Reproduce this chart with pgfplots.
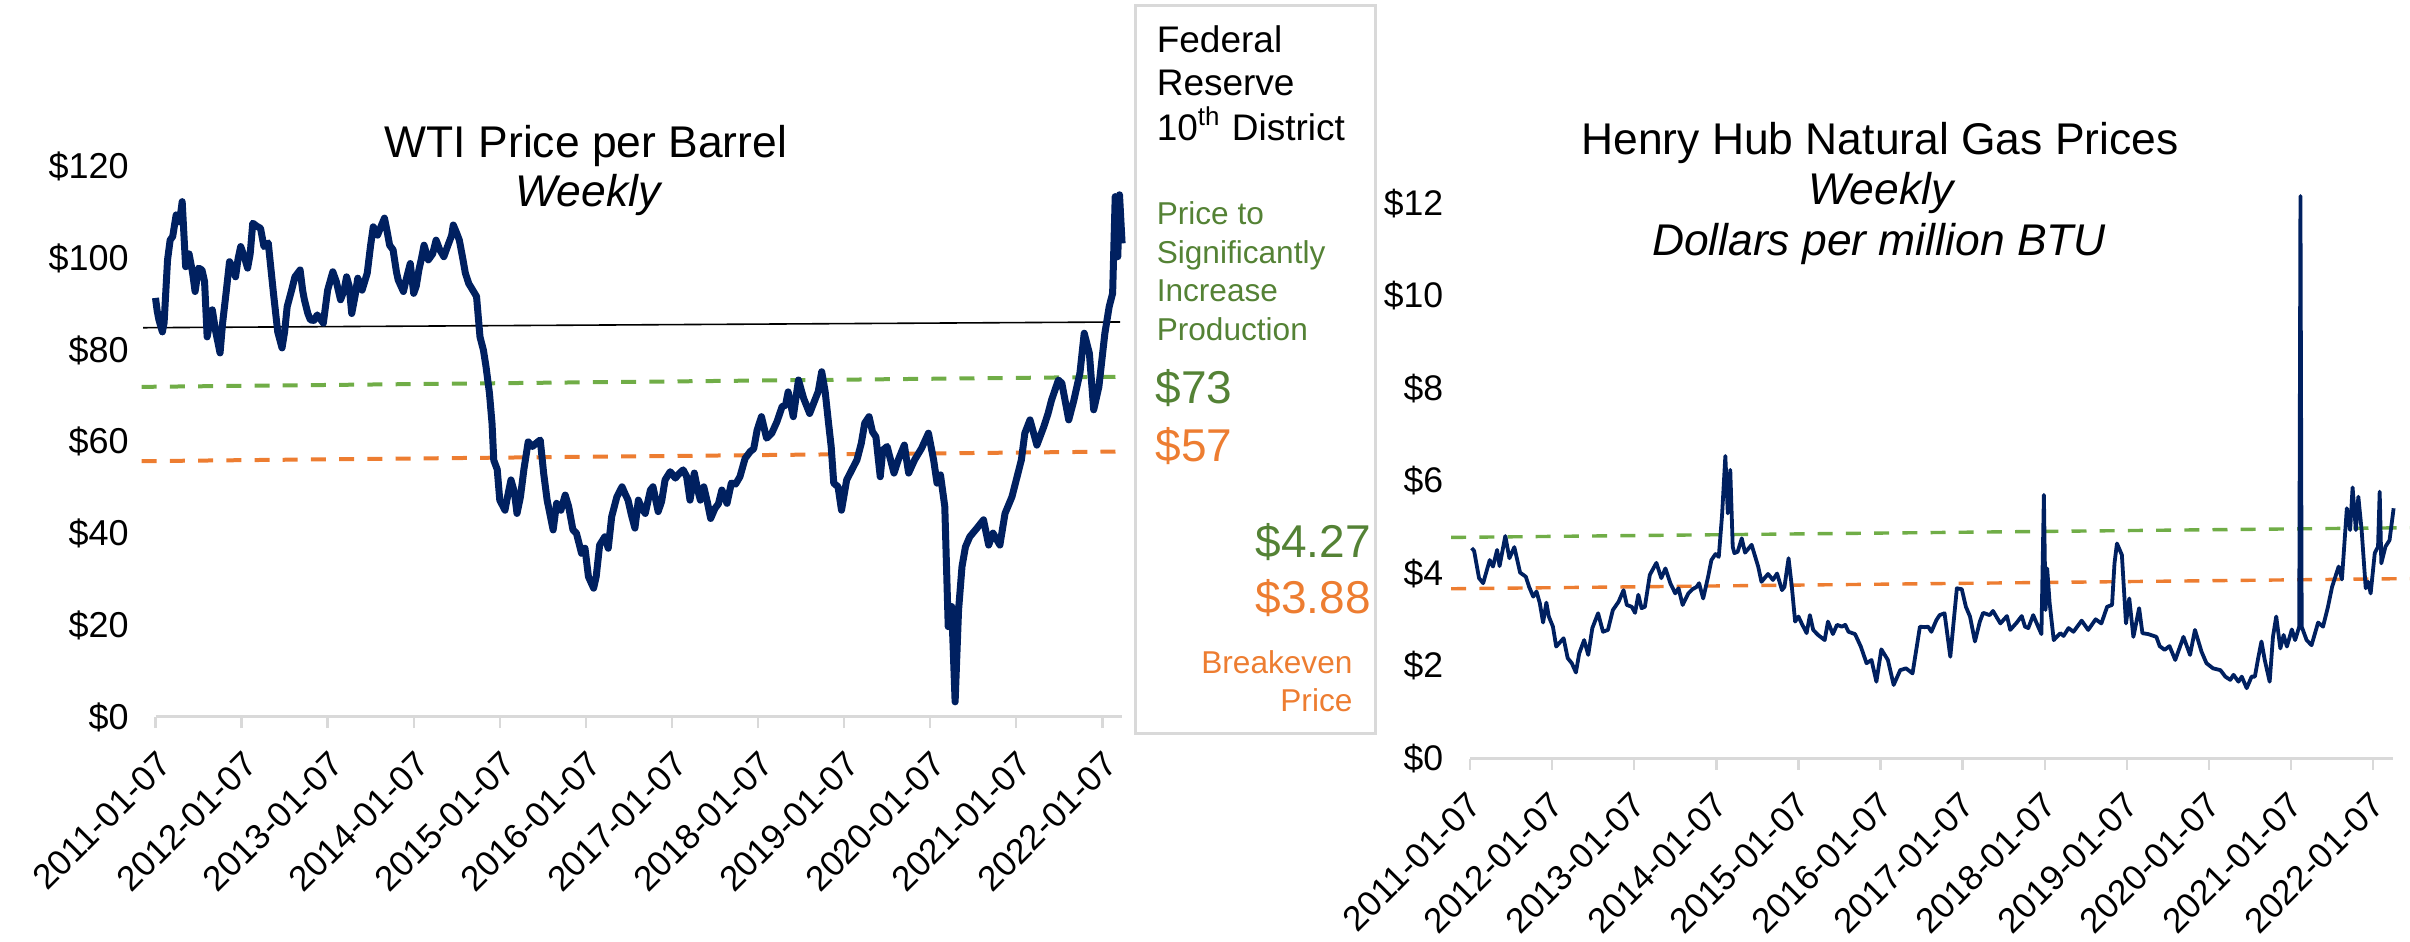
\documentclass[border=0pt]{standalone}
\usepackage{pgfplots}
\pgfplotsset{compat=1.18}
\usepackage{fontspec}
\setmainfont{Liberation Sans}
\definecolor{navy}{HTML}{002060}
\definecolor{lgreen}{HTML}{70AD47}
\definecolor{dgreen}{HTML}{548235}
\definecolor{orng}{HTML}{ED7D31}
\definecolor{axgray}{HTML}{D9D9D9}
\pgfplotsset{
  mystyle/.style={
    clip=false,
    axis x line=bottom, axis y line=left,
    x axis line style={-, draw=axgray, line width=0.75pt},
    y axis line style={draw=none},
    xtick={2011,2012,2013,2014,2015,2016,2017,2018,2019,2020,2021,2022},
    xticklabels={2011-01-07,2012-01-07,2013-01-07,2014-01-07,2015-01-07,2016-01-07,2017-01-07,2018-01-07,2019-01-07,2020-01-07,2021-01-07,2022-01-07},
    tick align=outside, major tick length=2.75pt,
    xtick style={draw=axgray, line width=0.6pt},
    ytick style={draw=none},
  }
}
\begin{document}
\begin{tikzpicture}
\useasboundingbox (0,0) rectangle (602.5pt,235.5pt);
% ---------------- WTI ----------------
\begin{axis}[mystyle,
  at={(38.875pt,56.25pt)}, anchor=south west,
  x=21.518pt, y=1.14625pt,
  xmin=2011, xmax=2022.23, ymin=0, ymax=120,
  ytick={0,20,40,60,80,100,120},
  yticklabels={\$0,\$20,\$40,\$60,\$80,\$100,\$120},
  yticklabel style={font=\fontsize{9pt}{9pt}\selectfont, anchor=east, inner sep=0pt, xshift=-3.75pt},
  xticklabel style={font=\fontsize{8.8pt}{9pt}\selectfont, xshift=0pt, yshift=-5pt, rotate=45, anchor=north east, inner sep=0pt},
]
\addplot[black, line width=0.4pt] coordinates {(2010.855,84.9) (2022.206,86.15)};
\addplot[lgreen, line width=1pt, dash pattern=on 3.75pt off 3.3pt] coordinates {(2010.84,72.0) (2022.25,74.2)};
\addplot[orng, line width=1pt, dash pattern=on 3.75pt off 3.3pt] coordinates {(2010.84,55.8) (2022.25,57.9)};
\addplot[navy, line width=1.75pt, line join=round] coordinates {
(2011.00,91.4) (2011.02,88.5) (2011.04,86.6) (2011.08,84.0) (2011.10,86.0) (2011.14,99.7)
(2011.17,104.0) (2011.20,104.8) (2011.24,109.5) (2011.28,108.0) (2011.31,112.4) (2011.35,98.2)
(2011.39,101.0) (2011.43,97.0) (2011.46,92.8) (2011.50,97.9) (2011.54,97.5) (2011.57,95.0)
(2011.60,82.9) (2011.63,86.0) (2011.66,88.8) (2011.70,84.0) (2011.75,79.4) (2011.78,86.0)
(2011.82,92.5) (2011.86,99.3) (2011.90,98.0) (2011.93,96.0) (2011.96,100.0) (2011.99,102.6)
(2012.03,100.5) (2012.07,97.9) (2012.10,101.0) (2012.13,107.7) (2012.18,107.0) (2012.22,106.6)
(2012.26,102.6) (2012.31,103.4) (2012.37,92.5) (2012.42,84.0) (2012.47,80.5) (2012.50,84.0)
(2012.53,89.5) (2012.58,93.0) (2012.62,96.0) (2012.68,97.5) (2012.71,93.0) (2012.73,91.0)
(2012.77,88.0) (2012.80,86.6) (2012.84,86.5) (2012.88,87.7) (2012.95,85.9) (2013.00,93.1)
(2013.06,97.1) (2013.10,95.0) (2013.15,91.0) (2013.19,93.0) (2013.22,96.0) (2013.25,94.0)
(2013.28,88.0) (2013.32,92.0) (2013.35,95.7) (2013.40,93.1) (2013.46,96.8) (2013.50,103.0)
(2013.53,106.9) (2013.58,105.1) (2013.62,107.0) (2013.66,108.8) (2013.69,106.0) (2013.72,102.9)
(2013.76,101.9) (2013.80,97.0) (2013.82,95.3) (2013.88,92.8) (2013.92,96.0) (2013.96,98.9)
(2014.00,92.4) (2014.03,94.0) (2014.06,97.5) (2014.09,100.0) (2014.12,102.9) (2014.17,99.7)
(2014.22,101.0) (2014.26,104.0) (2014.30,102.0) (2014.35,100.4) (2014.40,103.0) (2014.44,105.0)
(2014.46,107.3) (2014.50,105.5) (2014.53,104.0) (2014.57,100.0) (2014.60,96.8) (2014.64,94.5)
(2014.66,93.9) (2014.73,91.7) (2014.77,82.9) (2014.81,80.0) (2014.84,76.4) (2014.88,70.6)
(2014.91,64.0) (2014.93,56.0) (2014.97,54.0) (2015.00,47.3) (2015.06,45.1) (2015.10,49.0)
(2015.13,51.7) (2015.17,49.0) (2015.20,44.4) (2015.24,48.0) (2015.28,54.0) (2015.33,60.0)
(2015.38,59.0) (2015.44,60.0) (2015.47,60.4) (2015.51,53.1) (2015.55,47.3) (2015.62,40.8)
(2015.66,46.6) (2015.71,45.1) (2015.76,48.4) (2015.80,45.9) (2015.85,40.8) (2015.89,40.1)
(2015.95,35.7) (2015.99,36.8) (2016.03,30.6) (2016.09,28.1) (2016.12,30.6) (2016.16,37.5)
(2016.22,39.3) (2016.26,36.8) (2016.30,43.7) (2016.36,48.0) (2016.42,50.2) (2016.46,48.5)
(2016.49,47.3) (2016.53,44.0) (2016.57,41.2) (2016.61,47.3) (2016.65,45.5) (2016.69,44.4)
(2016.75,49.5) (2016.78,50.2) (2016.84,44.8) (2016.88,47.0) (2016.92,51.7) (2016.98,53.5)
(2017.04,52.1) (2017.08,53.0) (2017.13,53.9) (2017.17,52.5) (2017.21,47.3) (2017.26,53.2)
(2017.30,49.5) (2017.33,47.3) (2017.37,50.2) (2017.41,47.0) (2017.45,43.3) (2017.50,45.5)
(2017.54,46.5) (2017.58,49.5) (2017.64,46.6) (2017.69,51.0) (2017.74,50.8) (2017.79,52.4)
(2017.85,56.4) (2017.91,57.9) (2017.95,58.5) (2017.99,62.6) (2018.04,65.5) (2018.10,60.8)
(2018.16,61.9) (2018.22,64.4) (2018.28,67.7) (2018.32,68.0) (2018.35,70.9) (2018.41,65.5)
(2018.47,73.5) (2018.53,69.5) (2018.60,66.2) (2018.66,69.1) (2018.70,71.0) (2018.74,75.3)
(2018.78,71.0) (2018.82,64.0) (2018.85,59.0) (2018.88,51.0) (2018.93,50.2) (2018.97,45.1)
(2019.03,51.7) (2019.09,53.9) (2019.15,56.1) (2019.20,59.7) (2019.24,64.1) (2019.29,65.5)
(2019.33,62.2) (2019.37,61.1) (2019.42,52.4) (2019.45,58.2) (2019.50,59.0) (2019.54,56.1)
(2019.58,53.2) (2019.63,56.1) (2019.70,59.3) (2019.75,53.2) (2019.82,56.1) (2019.90,58.6)
(2019.98,61.9) (2020.04,56.1) (2020.08,51.0) (2020.12,52.8) (2020.17,45.9) (2020.21,19.7)
(2020.25,24.1) (2020.29,3.3) (2020.33,23.3) (2020.37,32.8) (2020.41,37.1) (2020.46,39.3)
(2020.54,41.1) (2020.62,43.0) (2020.68,37.5) (2020.73,40.1) (2020.81,37.5) (2020.87,44.4)
(2020.95,48.0) (2021.01,52.4) (2021.06,56.1) (2021.10,61.9) (2021.16,64.8) (2021.24,59.3)
(2021.32,63.3) (2021.37,66.2) (2021.41,69.1) (2021.49,73.5) (2021.53,72.8) (2021.61,64.8)
(2021.67,69.1) (2021.74,75.0) (2021.79,83.7) (2021.85,79.3) (2021.90,67.0) (2021.96,72.0)
(2022.03,83.7) (2022.08,89.5) (2022.12,92.4) (2022.15,113.5) (2022.18,100.4) (2022.20,113.9)
(2022.23,103.3)
};
\end{axis}
% ---------------- Henry Hub ----------------
\begin{axis}[mystyle,
  at={(367.5pt,45.875pt)}, anchor=south west,
  x=20.525pt, y=11.5625pt,
  xmin=2011, xmax=2022.24, ymin=0, ymax=12.5,
  ytick={0,2,4,6,8,10,12},
  yticklabels={\$0,\$2,\$4,\$6,\$8,\$10,\$12},
  yticklabel style={font=\fontsize{8.9pt}{9pt}\selectfont, anchor=east, inner sep=0pt, xshift=-3.75pt},
  xticklabel style={font=\fontsize{8.8pt}{9pt}\selectfont, xshift=-1pt, yshift=-5pt, rotate=45, anchor=north east, inner sep=0pt},
]
\addplot[lgreen, line width=0.85pt, dash pattern=on 3.75pt off 3.3pt] coordinates {(2010.77,4.78) (2022.45,4.99)};
\addplot[orng, line width=0.85pt, dash pattern=on 3.75pt off 3.3pt] coordinates {(2010.77,3.67) (2022.45,3.89)};
\addplot[navy, line width=0.95pt, line join=round] coordinates {
(2011.02,4.55) (2011.05,4.49) (2011.11,3.90) (2011.16,3.79) (2011.24,4.29) (2011.28,4.15)
(2011.33,4.51) (2011.36,4.16) (2011.43,4.81) (2011.48,4.33) (2011.54,4.57) (2011.61,4.02)
(2011.68,3.93) (2011.72,3.71) (2011.77,3.50) (2011.81,3.61) (2011.85,3.36) (2011.89,2.94)
(2011.93,3.37) (2011.96,3.07) (2012.01,2.85) (2012.05,2.42) (2012.14,2.60) (2012.19,2.17)
(2012.24,2.06) (2012.29,1.86) (2012.33,2.27) (2012.39,2.56) (2012.44,2.24) (2012.49,2.82)
(2012.56,3.14) (2012.62,2.74) (2012.68,2.78) (2012.74,3.21) (2012.81,3.39) (2012.87,3.64)
(2012.91,3.32) (2012.97,3.28) (2013.01,3.15) (2013.05,3.54) (2013.09,3.25) (2013.13,3.28)
(2013.19,3.97) (2013.27,4.23) (2013.33,3.90) (2013.38,4.11) (2013.44,3.79) (2013.50,3.57)
(2013.54,3.68) (2013.59,3.32) (2013.66,3.57) (2013.71,3.66) (2013.76,3.71) (2013.79,3.79)
(2013.84,3.46) (2013.90,3.93) (2013.94,4.29) (2013.99,4.42) (2014.03,4.36) (2014.07,5.26)
(2014.11,6.54) (2014.14,5.30) (2014.17,6.24) (2014.20,4.58) (2014.22,4.44) (2014.26,4.47)
(2014.31,4.76) (2014.35,4.45) (2014.43,4.62) (2014.51,4.15) (2014.55,3.82) (2014.63,3.99)
(2014.69,3.86) (2014.74,4.00) (2014.80,3.64) (2014.83,3.71) (2014.88,4.33) (2014.92,3.71)
(2014.96,2.96) (2015.00,3.07) (2015.04,2.92) (2015.10,2.71) (2015.14,3.10) (2015.18,2.78)
(2015.24,2.67) (2015.32,2.56) (2015.36,2.96) (2015.42,2.69) (2015.47,2.89) (2015.53,2.85)
(2015.57,2.89) (2015.61,2.74) (2015.69,2.69) (2015.76,2.42) (2015.83,2.06) (2015.89,2.13)
(2015.95,1.66) (2016.01,2.36) (2016.09,2.13) (2016.16,1.59) (2016.24,1.91) (2016.31,1.95)
(2016.39,1.84) (2016.48,2.85) (2016.54,2.84) (2016.58,2.85) (2016.62,2.74) (2016.68,2.99)
(2016.72,3.10) (2016.78,3.14) (2016.85,2.20) (2016.93,3.68) (2016.99,3.66) (2017.04,3.28)
(2017.09,3.07) (2017.15,2.53) (2017.21,2.96) (2017.25,3.15) (2017.33,3.10) (2017.37,3.19)
(2017.46,2.92) (2017.54,3.08) (2017.58,2.78) (2017.66,2.94) (2017.72,3.08) (2017.76,2.85)
(2017.80,2.82) (2017.86,3.10) (2017.92,2.85) (2017.96,2.69) (2017.99,5.70) (2018.01,3.21)
(2018.03,4.11) (2018.06,3.36) (2018.11,2.56) (2018.19,2.71) (2018.23,2.65) (2018.29,2.82)
(2018.35,2.74) (2018.45,2.98) (2018.53,2.78) (2018.62,3.01) (2018.69,2.92) (2018.76,3.28)
(2018.82,3.32) (2018.85,4.22) (2018.88,4.65) (2018.94,4.40) (2018.99,2.92) (2019.03,3.46)
(2019.08,2.63) (2019.15,3.25) (2019.19,2.71) (2019.26,2.69) (2019.36,2.63) (2019.40,2.43)
(2019.46,2.35) (2019.52,2.43) (2019.59,2.13) (2019.69,2.63) (2019.77,2.24) (2019.83,2.78)
(2019.91,2.31) (2019.97,2.06) (2020.05,1.95) (2020.14,1.91) (2020.20,1.77) (2020.26,1.70)
(2020.30,1.81) (2020.36,1.66) (2020.40,1.77) (2020.46,1.52) (2020.52,1.77) (2020.56,1.77)
(2020.60,2.17) (2020.64,2.53) (2020.68,2.13) (2020.74,1.66) (2020.78,2.63) (2020.82,3.07)
(2020.87,2.38) (2020.91,2.67) (2020.95,2.42) (2021.01,2.79) (2021.05,2.56) (2021.10,2.85)
(2021.115,12.16) (2021.13,2.85) (2021.19,2.56) (2021.25,2.45) (2021.33,2.94) (2021.39,2.85)
(2021.45,3.28) (2021.50,3.71) (2021.58,4.15) (2021.62,3.87) (2021.68,5.41) (2021.72,4.94)
(2021.75,5.86) (2021.79,4.94) (2021.82,5.66) (2021.86,4.94) (2021.91,3.68) (2021.94,3.82)
(2021.97,3.57) (2022.02,4.44) (2022.06,4.58) (2022.08,5.77) (2022.10,4.22) (2022.15,4.58)
(2022.20,4.72) (2022.25,5.41)
};
\end{axis}
% ---------------- titles ----------------
\node[anchor=base, inner sep=0pt, font=\fontsize{11.1pt}{12pt}\selectfont] at (146.5pt,196pt) {WTI Price per Barrel};
\node[anchor=base, inner sep=0pt, font=\fontsize{11.1pt}{12pt}\selectfont\itshape] at (147pt,183.75pt) {Weekly};
\node[anchor=base, inner sep=0pt, font=\fontsize{11.1pt}{12pt}\selectfont] at (470pt,196.9pt) {Henry Hub Natural Gas Prices};
\node[anchor=base, inner sep=0pt, font=\fontsize{11.1pt}{12pt}\selectfont\itshape] at (470.25pt,184.25pt) {Weekly};
\node[anchor=base, inner sep=0pt, font=\fontsize{11.1pt}{12pt}\selectfont\itshape] at (469.75pt,171.5pt) {Dollars per million BTU};
% ---------------- box ----------------
\draw[axgray, line width=0.75pt] (283.75pt,52pt) rectangle (343.75pt,234pt);
\begin{scope}[every node/.style={inner sep=0pt}]
\node[anchor=base west, font=\fontsize{9.25pt}{10pt}\selectfont] at (289pt,222.25pt) {Federal};
\node[anchor=base west, font=\fontsize{9.25pt}{10pt}\selectfont] at (289pt,211.5pt) {Reserve};
\node[anchor=base west, font=\fontsize{9.25pt}{10pt}\selectfont] at (289pt,200.25pt) {10\textsuperscript{th} District};
\node[anchor=base west, text=dgreen, font=\fontsize{7.9pt}{9pt}\selectfont] at (289pt,179.25pt) {Price to};
\node[anchor=base west, text=dgreen, font=\fontsize{7.9pt}{9pt}\selectfont] at (289pt,169.5pt) {Significantly};
\node[anchor=base west, text=dgreen, font=\fontsize{7.9pt}{9pt}\selectfont] at (289pt,160pt) {Increase};
\node[anchor=base west, text=dgreen, font=\fontsize{7.9pt}{9pt}\selectfont] at (289pt,150.25pt) {Production};
\node[anchor=base west, text=dgreen, font=\fontsize{11.5pt}{12pt}\selectfont] at (288.75pt,134.6pt) {\$73};
\node[anchor=base west, text=orng, font=\fontsize{11.5pt}{12pt}\selectfont] at (288.75pt,120.2pt) {\$57};
\node[anchor=base east, text=dgreen, font=\fontsize{11.5pt}{12pt}\selectfont] at (342.9pt,96.2pt) {\$4.27};
\node[anchor=base east, text=orng, font=\fontsize{11.5pt}{12pt}\selectfont] at (342.9pt,82pt) {\$3.88};
\node[anchor=base east, text=orng, font=\fontsize{7.9pt}{9pt}\selectfont] at (338.3pt,67pt) {Breakeven};
\node[anchor=base east, text=orng, font=\fontsize{7.9pt}{9pt}\selectfont] at (338.3pt,57.5pt) {Price};
\end{scope}
\end{tikzpicture}
\end{document}
